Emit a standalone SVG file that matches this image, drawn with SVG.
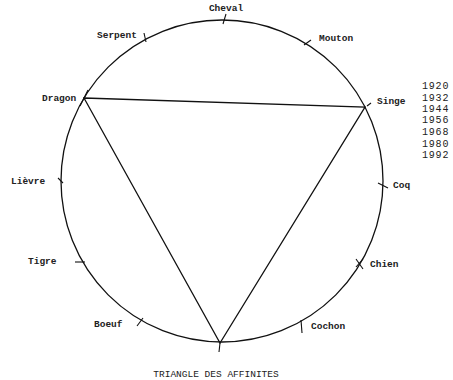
<svg xmlns="http://www.w3.org/2000/svg" width="453" height="380" viewBox="0 0 453 380">
<style>
.l{font-family:"Liberation Mono","DejaVu Sans Mono",monospace;font-size:9.5px;font-weight:bold;fill:#222}
.y{font-family:"Liberation Mono","DejaVu Sans Mono",monospace;font-size:10px;letter-spacing:0.8px;fill:#222}
.c{font-family:"Liberation Mono","DejaVu Sans Mono",monospace;font-size:9.5px;fill:#222}
.s{stroke:#111;stroke-width:1.3;fill:none;stroke-linecap:round}
.t{stroke:#111;stroke-width:1.1;fill:none}
</style>
<rect width="453" height="380" fill="#fff"/>
<g id="circle"><circle class="s" cx="222" cy="181" r="161"/></g>
<g id="connectors">
<path class="s" d="M84,98 L365,107 L220,343 Z"/>
</g>
<g id="cheval"><line class="t" x1="223" y1="24" x2="226" y2="14"/><text class="l" x="226" y="11" text-anchor="middle">Cheval</text></g>
<g id="serpent"><line class="t" x1="144" y1="33" x2="146" y2="42"/><text class="l" x="97" y="38">Serpent</text></g>
<g id="mouton"><line class="t" x1="304" y1="45" x2="311" y2="40"/><text class="l" x="319" y="41">Mouton</text></g>
<g id="singe"><line class="t" x1="367" y1="106" x2="371" y2="103"/><text class="l" x="377" y="104">Singe</text></g>
<g id="coq"><line class="t" x1="378" y1="183" x2="388" y2="188"/><text class="l" x="393" y="188">Coq</text></g>
<g id="chien"><line class="t" x1="356" y1="259" x2="363" y2="269"/><line class="t" x1="356" y1="267" x2="363" y2="259"/><text class="l" x="370" y="267">Chien</text></g>
<g id="cochon"><line class="t" x1="301" y1="320" x2="302" y2="333"/><text class="l" x="311" y="329">Cochon</text></g>
<g id="bottom"><line class="t" x1="220" y1="343" x2="219" y2="352"/></g>
<g id="boeuf"><line class="t" x1="137" y1="326" x2="143" y2="318"/><text class="l" x="94" y="327">Boeuf</text></g>
<g id="tigre"><line class="t" x1="75" y1="262" x2="85" y2="262"/><text class="l" x="28" y="264">Tigre</text></g>
<g id="lievre"><line class="t" x1="58" y1="178" x2="63" y2="183"/><text class="l" x="11" y="184">Lièvre</text></g>
<g id="dragon"><line class="t" x1="80" y1="106" x2="88" y2="90"/><text class="l" x="42" y="101">Dragon</text></g>
<g id="years">
<text class="y" x="422" y="89">1920</text>
<text class="y" x="422" y="101">1932</text>
<text class="y" x="422" y="112">1944</text>
<text class="y" x="422" y="123">1956</text>
<text class="y" x="422" y="135">1968</text>
<text class="y" x="422" y="147">1980</text>
<text class="y" x="422" y="158">1992</text>
</g>
<g id="caption"><text class="c" x="216" y="377" text-anchor="middle">TRIANGLE DES AFFINITES</text></g>
</svg>
